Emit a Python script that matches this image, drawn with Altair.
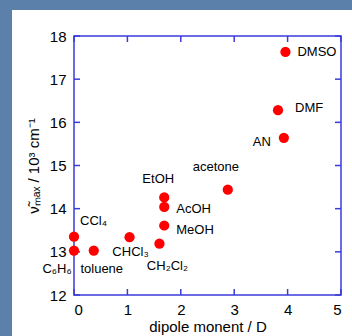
import altair as alt
import pandas as pd

solvent = ["DMSO", "DMF", "AN", "acetone", "EtOH", "AcOH", "MeOH",
           "CH₂Cl₂", "CHCl₃", "CCl₄", "C₆H₆", "toluene"]
dipole = [3.96, 3.82, 3.93, 2.88, 1.69, 1.69, 1.69, 1.60, 1.04, 0.0, 0.0, 0.37]
numax = [17.63, 16.28, 15.64, 14.44, 14.26, 14.04, 13.61, 13.19, 13.34, 13.35, 13.03, 13.03]

x_ticks = [0, 1, 2, 3, 4, 5]
y_ticks = [12, 13, 14, 15, 16, 17, 18]

# label placement (dx, dy, align) -- styling only
label_style = {
    "DMSO": (12, 0, "left"),
    "DMF": (17, -2, "left"),
    "AN": (-13, 4, "right"),
    "acetone": (-12, -23, "center"),
    "EtOH": (-6, -18, "center"),
    "AcOH": (12, 2, "left"),
    "MeOH": (12, 4, "left"),
    "CH₂Cl₂": (8, 22, "center"),
    "CHCl₃": (1, 15, "center"),
    "CCl₄": (6, -16, "left"),
    "C₆H₆": (-17, 18, "center"),
    "toluene": (8, 18, "center"),
}

W, H = 267, 259
AX = "#3b3bdb"
BG = "#5b80aa"
FONT = "Liberation Sans"

df = pd.DataFrame({"solvent": solvent, "dipole": dipole, "numax": numax})
xt = pd.DataFrame({"dipole": x_ticks})
yt = pd.DataFrame({"numax": y_ticks})

xs = alt.Scale(domain=[0, 5], nice=False)
ys = alt.Scale(domain=[12, 18], nice=False)
xax = alt.Axis(values=x_ticks, title="dipole monent / D", ticks=False,
               domain=False, grid=False, labelPadding=7, titlePadding=2, format="d")
yax = alt.Axis(values=y_ticks, title="ν̃ₘₐₓ / 10³ cm⁻¹", ticks=False,
               domain=False, grid=False, labelPadding=8, titlePadding=8, format="d")
X = alt.X("dipole:Q", scale=xs, axis=xax)
Y = alt.Y("numax:Q", scale=ys, axis=yax)

one = pd.DataFrame({"a": [0]})
band_left = alt.Chart(one).mark_rect(color=BG).encode(
    x=alt.value(-74), x2=alt.value(-62), y=alt.value(-36), y2=alt.value(H + 41))
band_top = alt.Chart(one).mark_rect(color=BG).encode(
    x=alt.value(-74), x2=alt.value(W + 11), y=alt.value(-36), y2=alt.value(-26))

points = alt.Chart(df).mark_circle(size=105, color="#ff0000", opacity=1).encode(x=X, y=Y)

ticks = [
    alt.Chart(xt).mark_rule(color=AX, strokeWidth=1.5).encode(
        x=X, y=alt.value(H), y2=alt.value(H - 6)),
    alt.Chart(xt).mark_rule(color=AX, strokeWidth=1.5).encode(
        x=X, y=alt.value(0), y2=alt.value(6)),
    alt.Chart(yt).mark_rule(color=AX, strokeWidth=1.5).encode(
        y=Y, x=alt.value(0), x2=alt.value(6)),
    alt.Chart(yt).mark_rule(color=AX, strokeWidth=1.5).encode(
        y=Y, x=alt.value(W), x2=alt.value(W - 6)),
]

labels = []
for name, (dx, dy, al) in label_style.items():
    labels.append(
        alt.Chart(df).transform_filter(alt.datum.solvent == name)
        .mark_text(dx=dx, dy=dy, align=al, baseline="middle", fontSize=13,
                   font=FONT, color="black")
        .encode(x=X, y=Y, text="solvent:N")
    )

chart = alt.layer(band_left, band_top, *ticks, points, *labels).properties(
    width=W, height=H,
    padding={"left": 74, "top": 36, "right": 11, "bottom": 41},
    autosize=alt.AutoSizeParams(type="none"),
    background="white",
).configure_view(stroke=AX, strokeWidth=1.5).configure_axis(
    labelFont=FONT, titleFont=FONT, labelFontSize=15, titleFontSize=15,
    labelColor="black", titleColor="black", titleFontWeight="normal",
)

chart.save("out.html", embed_options={"renderer": "svg", "actions": False})
